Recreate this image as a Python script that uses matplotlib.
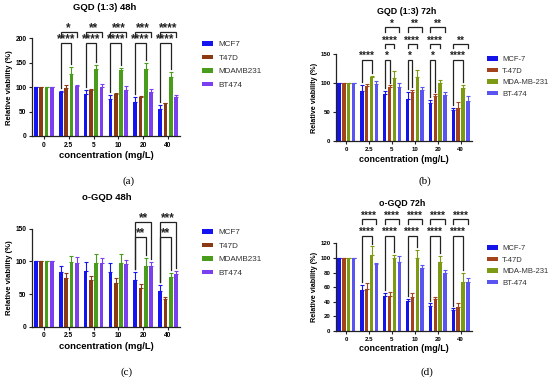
import matplotlib
matplotlib.use("Agg")
import matplotlib.pyplot as plt
from matplotlib.patches import Patch
import numpy as np

plt.rcParams['font.family'] = ['Liberation Sans', 'DejaVu Sans']

concentrations = ["0", "2.5", "5", "10", "20", "40"]

# Panel (a) GQD (1:3) 48h
a_lines = ["MCF7", "T47D", "MDAMB231", "BT474"]
a_mean = [[100, 90, 85, 76, 70, 55],
          [100, 99, 95, 86, 80, 67],
          [100, 127, 138, 135, 138, 120],
          [100, 102, 100, 95, 91, 80]]
a_top = [[100, 93, 94, 84, 79, 63],
         [100, 104, 97, 89, 81, 68],
         [100, 142, 145, 140, 149, 132],
         [100, 104, 106, 103, 97, 83]]
a_brackets = [(1, 0, 2, 190, "****", True), (1, 0, 3, 213, "*", False),
              (2, 0, 2, 190, "****", True), (2, 0, 3, 213, "**", False),
              (3, 0, 2, 190, "****", True), (3, 0, 3, 213, "***", False),
              (4, 0, 2, 190, "****", True), (4, 0, 3, 213, "***", False),
              (5, 0, 2, 190, "****", True), (5, 0, 3, 213, "****", False)]

# Panel (b) GQD (1:3) 72h
b_lines = ["MCF-7", "T-47D", "MDA-MB-231", "BT-474"]
b_mean = [[100, 87, 81, 73, 65, 54],
          [100, 95, 93, 84, 77, 58],
          [100, 110, 108, 111, 100, 92],
          [100, 98, 93, 88, 80, 70]]
b_top = [[100, 97, 87, 85, 71, 58],
         [100, 98, 96, 88, 81, 68],
         [100, 113, 120, 122, 105, 97],
         [100, 103, 100, 93, 84, 77]]
b_brackets = [(1, 0, 2, 140, "****", True),
              (2, 0, 1, 140, "*", True), (2, 0, 2, 167, "****", False), (2, 0, 3, 196, "*", False),
              (3, 0, 1, 140, "*", True), (3, 0, 2, 167, "****", False), (3, 0, 3, 196, "**", False),
              (4, 0, 1, 140, "*", True), (4, 0, 2, 167, "****", False), (4, 0, 3, 196, "**", False),
              (5, 0, 2, 140, "****", True), (5, 0, 3, 167, "**", False)]

# Panel (c) o-GQD 48h
c_lines = ["MCF7", "T47D", "MDAMB231", "BT474"]
c_mean = [[100, 84, 85, 83, 71, 54],
          [100, 74, 71, 67, 60, 43],
          [100, 99, 97, 98, 93, 76],
          [100, 98, 98, 96, 93, 81]]
c_top = [[100, 93, 99, 98, 84, 64],
         [100, 82, 78, 74, 66, 46],
         [100, 108, 111, 111, 105, 82],
         [100, 106, 105, 102, 99, 85]]
c_brackets = [(4, 0, 2, 137, "**", True), (4, 0, 3, 160, "**", True),
              (5, 0, 2, 137, "**", True), (5, 0, 3, 160, "***", True)]

# Panel (d) o-GQD 72h
d_lines = ["MCF-7", "T-47D", "MDA-MB-231", "BT-474"]
d_mean = [[100, 56, 48, 41, 34, 29],
          [100, 58, 48, 46, 44, 33],
          [100, 104, 100, 100, 95, 67],
          [100, 91, 95, 86, 79, 67]]
d_top = [[100, 63, 52, 44, 38, 31],
         [100, 65, 54, 52, 46, 38],
         [100, 116, 104, 111, 103, 80],
         [100, 93, 102, 90, 84, 73]]
d_brackets = [(g, 0, 2, 130, "****", True) for g in range(1, 6)] + \
             [(g, 0, 3, 153, "****", False) for g in range(1, 6)]

colors_ac = ["#1414f0", "#8a3a12", "#4a9c1c", "#7a40f0"]
colors_bd = ["#1414e8", "#a3431c", "#7c9a12", "#5a55f0"]

W, H = 550, 380
fig = plt.figure(figsize=(5.5, 3.8), dpi=100)
fig.patch.set_facecolor("white")

offsets = np.array([-0.32, -0.107, 0.107, 0.32])
bw = 0.15


def rect(l, r, y0, y1):
    return [l / W, 1 - y0 / H, (r - l) / W, (y0 - y1) / H]


def panel(box, means, tops, lines, colors, brackets, ymax, yticks, title,
          title_xy, letter, letter_xy, leg_xy, labelspacing, fs, xlim, star_fs):
    ax = fig.add_axes(box)
    x = np.arange(len(concentrations))
    for i in range(4):
        m = np.array(means[i], float)
        t = np.array(tops[i], float)
        ax.bar(x + offsets[i], m, width=bw, color=colors[i], zorder=2)
        ax.errorbar(x + offsets[i], m, yerr=[np.zeros_like(m), t - m], fmt="none",
                    ecolor=colors[i], elinewidth=0.8, capsize=1.2, capthick=0.8, zorder=3)
    ax.set_ylim(0, ymax)
    ax.set_xlim(*xlim)
    ax.set_yticks(yticks)
    ax.set_xticks(x)
    ax.set_xticklabels(concentrations)
    for s in ["top", "right"]:
        ax.spines[s].set_visible(False)
    for s in ["left", "bottom"]:
        ax.spines[s].set_linewidth(0.9)
        ax.spines[s].set_color("#222222")
    ax.tick_params(length=2.5, width=0.8, labelsize=fs - 0.8, pad=1.5, color="#222222")
    for lab in ax.get_xticklabels() + ax.get_yticklabels():
        lab.set_fontweight("bold")
    ax.set_xlabel("concentration (mg/L)", fontsize=fs + 1.2, fontweight="bold", labelpad=2)
    ax.set_ylabel("Relative viability (%)", fontsize=fs, fontweight="bold", labelpad=2)
    short = ymax * 0.05
    gap = ymax * 0.03
    for g, i0, i1, yv, lab, long_legs in brackets:
        xl = g + offsets[i0]
        xr = g + offsets[i1]
        if long_legs:
            yl = tops[i0][g] + gap
            yr = tops[i1][g] + gap
        else:
            yl = yv - short
            yr = yv - short
        ax.plot([xl, xl, xr, xr], [yl, yv, yv, yr], color="#222222", lw=0.9,
                clip_on=False, zorder=4, solid_joinstyle="miter")
        ax.annotate(lab, xy=((xl + xr) / 2, yv), xytext=(0, 0.5),
                    textcoords="offset points", ha="center", va="baseline",
                    fontsize=star_fs, fontweight="bold", color="#222222",
                    annotation_clip=False)
    fig.text(title_xy[0] / W, 1 - title_xy[1] / H, title, ha="center", va="center",
             fontsize=fs + 1.2, fontweight="bold")
    fig.text(letter_xy[0] / W, 1 - letter_xy[1] / H, letter, ha="center", va="center",
             fontsize=8, family=["Liberation Serif", "DejaVu Serif"])
    handles = [Patch(facecolor=c, edgecolor="none") for c in colors]
    ax.legend(handles, lines, loc="upper left",
              bbox_to_anchor=(leg_xy[0] / W, 1 - leg_xy[1] / H),
              bbox_transform=fig.transFigure, frameon=False, fontsize=fs + 0.3,
              handlelength=1.4, handleheight=0.55, handletextpad=0.6,
              labelspacing=labelspacing, borderpad=0, borderaxespad=0,
              labelcolor="#333333")
    return ax


panel(rect(32, 180, 136, 38.3), a_mean, a_top, a_lines, colors_ac, a_brackets,
      200, [0, 50, 100, 150, 200], "GQD (1:3) 48h", (105, 8), "(a)", (129, 181),
      (202, 41), 0.75, 5.6, (-0.48, 5.48), 8.5)
panel(rect(336, 472, 141.3, 54), b_mean, b_top, b_lines, colors_bd, b_brackets,
      150, [0, 50, 100, 150], "GQD (1:3) 72h", (407, 12), "(b)", (425, 181),
      (487, 56), 0.6, 5.2, (-0.45, 5.5), 7.2)
panel(rect(32, 180, 326.7, 228.7), c_mean, c_top, c_lines, colors_ac, c_brackets,
      150, [0, 50, 100, 150], "o-GQD 48h", (107, 198), "(c)", (127, 372),
      (202, 229), 0.75, 5.6, (-0.48, 5.48), 8.5)
panel(rect(336, 472, 331, 243.3), d_mean, d_top, d_lines, colors_bd, d_brackets,
      120, [0, 20, 40, 60, 80, 100, 120], "o-GQD 72h", (402, 204), "(d)", (427, 372),
      (487, 245), 0.6, 5.2, (-0.45, 5.5), 7.2)

fig.savefig("out.png", dpi=100)
